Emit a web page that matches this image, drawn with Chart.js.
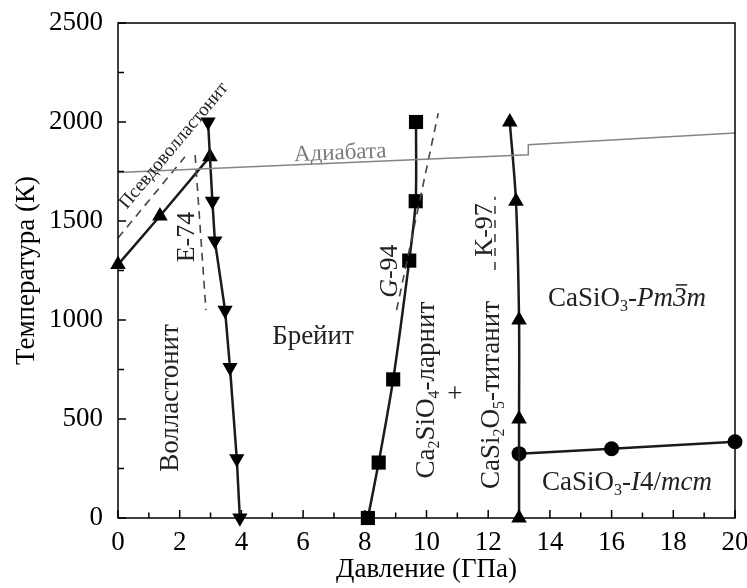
<!DOCTYPE html>
<html>
<head>
<meta charset="utf-8">
<script src="https://cdn.jsdelivr.net/npm/chart.js@4.4.1/dist/chart.umd.min.js"></script>
<style>
  html, body { margin: 0; padding: 0; background: #fff; }
</style>
</head>
<body>
<canvas id="chart" width="747" height="588"></canvas>
<script>

// Axis ticks (Давление, ГПа / Температура, К)
const xTicks = [0, 2, 4, 6, 8, 10, 12, 14, 16, 18, 20];
const yTicks = [0, 500, 1000, 1500, 2000, 2500];

// Адиабата
const adiabataP = [0, 13.3, 13.3, 20];
const adiabataT = [1745, 1835, 1885, 1945];

// Волластонит - псевдоволластонит boundary
const pseudoP = [0, 1.36, 2.98];
const pseudoT = [1280, 1525, 1825];

// Волластонит - брейит boundary
const wollP = [2.92, 2.98, 3.06, 3.14, 3.47, 3.63, 3.85, 3.95];
const wollT = [2000, 1825, 1600, 1400, 1050, 760, 300, 0];

// Брейит - Ca2SiO4 + CaSi2O5 boundary
const larnP = [8.1, 8.45, 8.92, 9.44, 9.65, 9.66];
const larnT = [0, 280, 700, 1300, 1600, 2000];

// Ca2SiO4 + CaSi2O5 - CaSiO3 boundary
const titP = [13, 13, 13, 12.9, 12.7];
const titT = [0, 500, 1000, 1600, 2000];

// Pm3m - I4/mcm boundary
const perovP = [13, 16, 20];
const perovT = [325, 350, 385];

// literature boundaries (dashed)
const pseudoDashP = [0, 2.17];
const pseudoDashT = [1414, 1824];
const e74P = [2.5, 2.85];
const e74T = [1833, 1050];
const g94P = [9.03, 10.38];
const g94T = [1050, 2044];
const k97P = [12.22, 12.22];
const k97T = [1253, 1623];


const FONT = '"Liberation Serif", "Times New Roman", serif';

function pts(xs, ys) {
  return xs.map((x, i) => ({ x: x, y: ys[i] }));
}

function solid(data, style, rot, radius) {
  return {
    data: data,
    showLine: true,
    borderColor: '#1a1a1a',
    borderWidth: 2.5,
    backgroundColor: '#000',
    pointBackgroundColor: '#000',
    pointBorderColor: '#000',
    pointBorderWidth: 0,
    pointStyle: style,
    pointRotation: rot,
    pointRadius: radius,
    tension: 0,
    clip: false
  };
}

function dashed(data) {
  return {
    data: data,
    showLine: true,
    borderColor: '#444',
    borderWidth: 1.6,
    borderDash: [8, 6],
    pointRadius: 0,
    clip: false
  };
}

let datasets = [];

datasets.push({
  data: pts(adiabataP, adiabataT),
  showLine: true,
  borderColor: '#858585',
  borderWidth: 1.5,
  pointRadius: 0,
  clip: false
});

datasets.push(dashed(pts(pseudoDashP, pseudoDashT)));
datasets.push(dashed(pts(e74P, e74T)));
datasets.push(dashed(pts(g94P, g94T)));
datasets.push(dashed(pts(k97P, k97T)));

// the junction point belongs to the pseudowollastonite line, so hide it here
let woll = solid(pts(wollP, wollT), 'triangle', 180, 8.8);
woll.pointRadius = wollP.map((p, i) => i === 1 ? 0 : 8.8);
datasets.push(woll);

datasets.push(solid(pts(pseudoP, pseudoT), 'triangle', 0, 9));

let larn = solid(pts(larnP, larnT), 'rect', 0, 10);
larn.tension = 0.25;
datasets.push(larn);

let tit = solid(pts(titP, titT), 'triangle', 0, 9);
tit.tension = 0.3;
datasets.push(tit);

datasets.push(solid(pts(perovP, perovT), 'circle', 0, 7.5));


// Text on the diagram. runs: t = text, sub = subscript, it = italic, bar = overline
const labels = [
  { p: 7.2, t: 1850, size: 23, angle: -2.5, color: '#7a7a7a', runs: [{ t: 'Адиабата' }] },
  { p: 1.78, t: 1884, size: 19, angle: -50, color: '#222', runs: [{ t: 'Псевдоволластонит' }] },
  { p: 2.2, t: 1419, size: 26, angle: -90, color: '#222', runs: [{ t: 'E-74' }] },
  { p: 8.78, t: 1247, size: 26, angle: -90, color: '#222', runs: [{ t: 'G', it: true }, { t: '-94' }] },
  { p: 11.83, t: 1455, size: 26, angle: -90, color: '#222', runs: [{ t: 'K-97' }] },
  { p: 1.65, t: 606, size: 27, angle: -90, color: '#222', runs: [{ t: 'Волластонит' }] },
  { p: 6.32, t: 924, size: 27, angle: 0, color: '#222', runs: [{ t: 'Брейит' }] },
  { p: 9.95, t: 646, size: 27, angle: -90, color: '#222',
    runs: [{ t: 'Ca' }, { t: '2', sub: true }, { t: 'SiO' }, { t: '4', sub: true }, { t: '-ларнит' }] },
  { p: 10.92, t: 631, size: 27, angle: 0, color: '#222', runs: [{ t: '+' }] },
  { p: 12.06, t: 621, size: 27, angle: -90, color: '#222',
    runs: [{ t: 'CaSi' }, { t: '2', sub: true }, { t: 'O' }, { t: '5', sub: true }, { t: '-титанит' }] },
  { p: 16.5, t: 1116, size: 27, angle: 0, color: '#222',
    runs: [{ t: 'CaSiO' }, { t: '3', sub: true }, { t: '-' }, { t: 'Pm', it: true }, { t: '3', it: true, bar: true }, { t: 'm', it: true }] },
  { p: 16.5, t: 187, size: 27, angle: 0, color: '#222',
    runs: [{ t: 'CaSiO' }, { t: '3', sub: true }, { t: '-' }, { t: 'I', it: true }, { t: '4/' }, { t: 'mcm', it: true }] }
];

function drawRich(ctx, runs, size, color) {
  let total = 0;
  const items = runs.map(r => {
    const fs = r.sub ? Math.round(size * 0.6) : size;
    const font = (r.it ? 'italic ' : '') + fs + 'px ' + FONT;
    ctx.font = font;
    const w = ctx.measureText(r.t).width;
    total += w;
    return { r: r, font: font, w: w };
  });
  let x = -total / 2;
  ctx.fillStyle = color;
  ctx.strokeStyle = color;
  ctx.textAlign = 'left';
  ctx.textBaseline = 'alphabetic';
  const base = size * 0.33;
  for (const it of items) {
    ctx.font = it.font;
    const y = base + (it.r.sub ? size * 0.2 : 0);
    ctx.fillText(it.r.t, x, y);
    if (it.r.bar) {
      ctx.lineWidth = 1.5;
      ctx.beginPath();
      ctx.moveTo(x + it.w * 0.2, y - size * 0.78);
      ctx.lineTo(x + it.w * 1.05, y - size * 0.78);
      ctx.stroke();
    }
    x += it.w;
  }
}

const diagramText = {
  id: 'diagramText',
  afterDatasetsDraw(chart) {
    const ctx = chart.ctx;
    const xs = chart.scales.x, ys = chart.scales.y;
    for (const lb of labels) {
      ctx.save();
      ctx.translate(xs.getPixelForValue(lb.p), ys.getPixelForValue(lb.t));
      ctx.rotate(lb.angle * Math.PI / 180);
      drawRich(ctx, lb.runs, lb.size, lb.color);
      ctx.restore();
    }
  }
};

// frame round the plot, with tick marks pointing inwards
const frameTicks = {
  id: 'frameTicks',
  afterDraw(chart) {
    const ctx = chart.ctx;
    const a = chart.chartArea;
    const xs = chart.scales.x, ys = chart.scales.y;
    ctx.save();
    ctx.strokeStyle = '#000';
    ctx.lineWidth = 1.5;
    ctx.strokeRect(a.left, a.top, a.right - a.left, a.bottom - a.top);
    ctx.beginPath();
    for (let i = 0; i < xTicks.length; i++) {
      const px = xs.getPixelForValue(xTicks[i]);
      ctx.moveTo(px, a.bottom);
      ctx.lineTo(px, a.bottom - 8);
      if (i < xTicks.length - 1) {
        const mx = xs.getPixelForValue((xTicks[i] + xTicks[i + 1]) / 2);
        ctx.moveTo(mx, a.bottom);
        ctx.lineTo(mx, a.bottom - 5.5);
      }
    }
    for (let i = 0; i < yTicks.length; i++) {
      const py = ys.getPixelForValue(yTicks[i]);
      ctx.moveTo(a.left, py);
      ctx.lineTo(a.left + 8, py);
      if (i < yTicks.length - 1) {
        const my = ys.getPixelForValue((yTicks[i] + yTicks[i + 1]) / 2);
        ctx.moveTo(a.left, my);
        ctx.lineTo(a.left + 6, my);
      }
    }
    ctx.stroke();
    ctx.restore();
  }
};

const canvas = document.getElementById('chart');

const chart = new Chart(canvas, {
  type: 'scatter',
  data: { datasets: datasets },
  options: {
    responsive: false,
    animation: false,
    devicePixelRatio: 1,
    layout: { padding: { left: 0, right: 12, top: 23, bottom: 0 } },
    plugins: {
      legend: { display: false },
      tooltip: { enabled: false }
    },
    scales: {
      x: {
        type: 'linear',
        min: 0,
        max: 20,
        afterBuildTicks: s => { s.ticks = xTicks.map(v => ({ value: v })); },
        // fixed height, and no extra room for the end labels: the plot edge is set by layout padding
        afterFit: s => { s.height = 70; s.paddingLeft = 0; s.paddingRight = 0; },
        grid: { display: false, drawTicks: false },
        border: { display: false },
        ticks: { color: '#000', font: { family: FONT, size: 27 }, padding: 9, maxRotation: 0, autoSkip: false,
                 callback: v => String(v) },
        title: { display: true, text: 'Давление (ГПа)', color: '#000', font: { family: FONT, size: 27 }, padding: { top: 0, bottom: 2 } }
      },
      y: {
        type: 'linear',
        min: 0,
        max: 2500,
        afterBuildTicks: s => { s.ticks = yTicks.map(v => ({ value: v })); },
        afterFit: s => { s.width = 118; s.paddingTop = 0; s.paddingBottom = 0; },
        grid: { display: false, drawTicks: false },
        border: { display: false },
        ticks: { color: '#000', font: { family: FONT, size: 27 }, padding: 15, autoSkip: false,
                 callback: v => String(v) },
        title: { display: true, text: 'Температура (К)', color: '#000', font: { family: FONT, size: 27 }, padding: { top: 11, bottom: 0 } }
      }
    }
  },
  plugins: [diagramText, frameTicks]
});

</script>
</body>
</html>
